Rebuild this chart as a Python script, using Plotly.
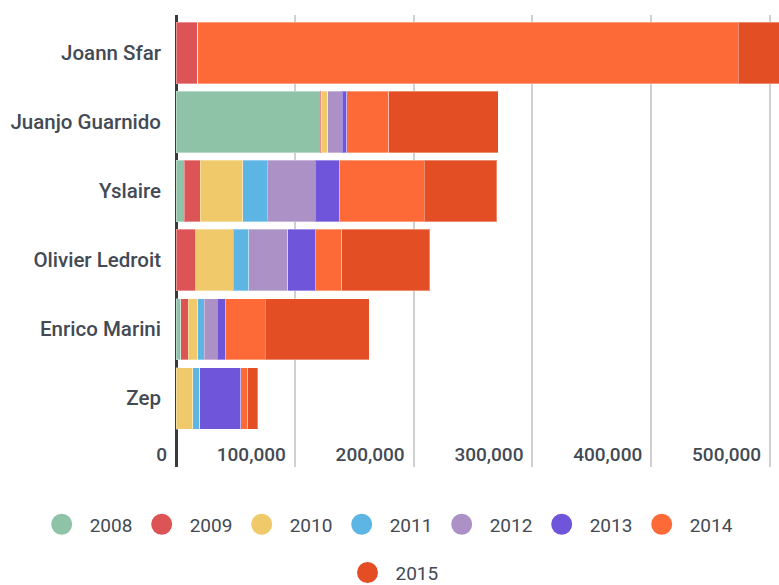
import plotly.graph_objects as go

authors = ["Joann Sfar", "Juanjo Guarnido", "Yslaire", "Olivier Ledroit", "Enrico Marini", "Zep"]
years = ["2008", "2009", "2010", "2011", "2012", "2013", "2014", "2015"]
colors = ["#8fc3a8", "#dc5456", "#efc96a", "#5db5e4", "#ac91c7", "#6e55da", "#fd6a38", "#e44e24"]

v2008 = [0, 121300, 6800, 0, 4000, 0]
v2009 = [18500, 1000, 13800, 16800, 6500, 0]
v2010 = [0, 5600, 35400, 31500, 7600, 14300]
v2011 = [0, 0, 21000, 13100, 5600, 5600]
v2012 = [0, 12000, 40400, 32800, 10900, 0]
v2013 = [0, 3700, 20500, 23100, 7100, 34500]
v2014 = [454800, 35400, 71000, 22100, 33300, 6100]
v2015 = [60000, 92300, 61000, 74100, 87600, 8400]
series = [v2008, v2009, v2010, v2011, v2012, v2013, v2014, v2015]

tick_vals = [0, 100000, 200000, 300000, 400000, 500000]
tick_text = ["0", "100,000", "200,000", "300,000", "400,000", "500,000"]

TXT = "#434a54"

fig = go.Figure()
for yr, col, vals in zip(years, colors, series):
    fig.add_trace(go.Bar(
        y=authors, x=vals, orientation="h", name=yr,
        marker=dict(color=col, line=dict(color="rgba(255,255,255,0.35)", width=1)),
        showlegend=False,
    ))
# legend entries as circles (first row: 2008-2014, second row: 2015)
for yr, col in zip(years, colors):
    fig.add_trace(go.Scatter(
        x=[None], y=[None], mode="markers", name=yr,
        marker=dict(color=col, size=16, symbol="circle", line=dict(color=col, width=5)),
        showlegend=True,
        legend="legend2" if yr == "2015" else "legend",
    ))

legend_common = dict(
    orientation="h",
    font=dict(family="Roboto", size=19, color=TXT),
    itemsizing="trace", itemwidth=46, entrywidth=39,
    traceorder="normal", bgcolor="rgba(0,0,0,0)",
)

fig.update_layout(
    width=779, height=585,
    barmode="stack", bargap=0.11,
    paper_bgcolor="white", plot_bgcolor="white",
    margin=dict(l=176, r=0, t=15, b=118.3, autoexpand=False),
    font=dict(family="Roboto", size=19, color=TXT),
    legend=dict(xref="paper", x=-0.236, xanchor="left",
                yref="paper", y=-0.085, yanchor="top", **legend_common),
    legend2=dict(xref="container", x=0.5, xanchor="center",
                 yref="paper", y=-0.1916, yanchor="top", **legend_common),
    xaxis=dict(
        range=[0, 507500], automargin=False, tickangle=0,
        tickvals=tick_vals, ticktext=tick_text,
        showgrid=True, gridcolor="#d0d0d0", gridwidth=1.5,
        zeroline=True, zerolinecolor="#3a3a3a", zerolinewidth=2.5,
        ticklabelposition="inside left", ticklabeloverflow="allow",
        ticklabelshift=-9, ticklabelstandoff=-4,
        tickfont=dict(family="Roboto", size=19, color=TXT, weight=500),
        showline=False, ticks="",
    ),
    yaxis=dict(
        categoryorder="array", categoryarray=authors,
        range=[5.995, -0.551], automargin=False,
        showgrid=False, zeroline=False, showline=False, ticks="",
        ticklabelstandoff=14,
        tickfont=dict(family="Roboto", size=20.5, color=TXT, weight=500),
    ),
)

fig.write_html(
    "out.html",
    config={"displayModeBar": False},
    post_script="document.body.style.margin='0';document.body.style.overflow='hidden';",
)
